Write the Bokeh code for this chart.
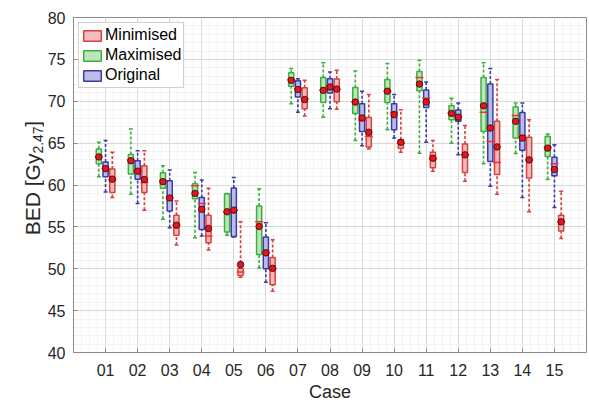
import numpy as np
from math import pi
from bokeh.plotting import figure
from bokeh.layouts import row
from bokeh.models import (FixedTicker, SingleIntervalTicker, Range1d,
                          Legend, LegendItem)
from bokeh.core.properties import value
from bokeh.embed import file_html
from bokeh.resources import INLINE

cases = ["01", "02", "03", "04", "05", "06", "07", "08", "09", "10",
         "11", "12", "13", "14", "15"]

# Maximised (green)
max_whi  = [65.1, 66.7, 62.3, 61.5, 59.0, 59.55, 73.9, 74.6, 73.6, 74.5, 74.9, 70.35, 74.6, 69.8, 66.1]
max_q3   = [64.3, 63.65, 61.45, 60.15, 58.95, 57.5, 73.4, 72.85, 71.65, 72.6, 73.55, 69.45, 72.85, 69.3, 65.8]
max_med  = [63.4, 63.0, 60.5, 59.9, 56.8, 55.6, 72.6, 71.3, 69.9, 71.2, 72.85, 68.6, 68.7, 68.3, 64.5]
max_q1   = [62.55, 61.3, 59.6, 58.35, 54.4, 51.7, 71.8, 69.85, 68.55, 69.85, 71.25, 67.8, 66.4, 65.6, 63.4]
max_wlo  = [61.0, 58.9, 55.9, 53.7, 54.0, 50.1, 69.7, 68.1, 65.3, 66.6, 63.8, 65.0, 62.55, 63.75, 60.65]
max_mean = [63.35, 62.9, 60.4, 59.0, 56.8, 55.05, 72.5, 71.3, 69.9, 71.2, 72.05, 68.55, 69.45, 67.6, 64.4]

# Original (blue)
org_whi  = [65.3, 64.1, 61.8, 60.6, 60.9, 55.5, 72.7, 73.5, 71.2, 70.8, 72.3, 69.8, 73.9, 69.8, 64.8]
org_q3   = [62.75, 62.9, 60.5, 58.5, 59.65, 53.8, 72.45, 72.7, 69.7, 69.7, 71.35, 68.95, 72.05, 68.65, 63.3]
org_med  = [62.0, 61.7, 58.5, 57.8, 57.0, 51.9, 71.5, 71.8, 67.7, 68.7, 70.35, 68.2, 65.2, 65.9, 62.55]
org_q1   = [61.0, 60.7, 56.9, 54.7, 53.85, 50.0, 70.5, 71.0, 66.4, 66.6, 69.25, 67.6, 62.8, 64.15, 61.1]
org_wlo  = [59.15, 57.8, 54.9, 53.9, 53.8, 48.4, 68.7, 69.1, 64.7, 65.6, 65.1, 63.6, 59.85, 58.5, 57.3]
org_mean = [61.95, 61.65, 58.45, 57.1, 57.0, 51.9, 71.4, 71.7, 68.0, 68.4, 69.9, 68.1, 66.8, 65.6, 61.85]

# Minimised (red)
min_whi  = [63.9, 64.1, 58.1, 59.6, 55.6, 53.45, 72.5, 73.7, 70.8, 69.0, 65.3, 67.1, 72.6, 67.8, 59.25]
min_q3   = [61.9, 62.3, 56.4, 56.4, 50.05, 51.35, 71.6, 72.65, 68.05, 65.4, 63.9, 64.9, 67.6, 65.7, 56.4]
min_med  = [60.6, 60.3, 55.2, 53.9, 49.6, 50.0, 70.3, 71.4, 65.8, 65.0, 63.1, 63.6, 62.7, 63.0, 55.6]
min_q1   = [59.1, 59.1, 54.0, 53.1, 49.2, 48.1, 69.1, 69.95, 64.55, 64.4, 62.05, 61.5, 61.25, 60.85, 54.5]
min_wlo  = [58.5, 57.0, 52.85, 52.25, 49.0, 47.3, 68.25, 69.05, 64.3, 63.9, 61.65, 60.45, 58.9, 56.8, 53.6]
min_mean = [60.7, 60.65, 55.2, 54.8, 50.5, 50.05, 70.2, 71.45, 66.3, 65.1, 63.2, 63.6, 64.55, 63.0, 55.6]

FONT = "Liberation Sans"
H = 404
W_LAB = 44
W_MAIN = 589 - W_LAB
TOP, BOTTOM = 17, 50

p = figure(width=W_MAIN, height=H, output_backend="svg", toolbar_location=None,
           x_range=Range1d(0, 16), y_range=Range1d(40, 80),
           min_border_left=67 - W_LAB, min_border_right=3, min_border_top=TOP,
           min_border_bottom=BOTTOM)

xt = FixedTicker(ticks=list(range(1, 16)),
                 minor_ticks=list(np.arange(0, 16.001, 0.25)))
yt = SingleIntervalTicker(interval=5, num_minor_ticks=5)

p.xaxis.ticker = xt
p.yaxis.ticker = yt
p.xaxis.major_label_overrides = {i + 1: c for i, c in enumerate(cases)}

for ax in (p.xaxis, p.yaxis):
    ax.major_tick_in = 4
    ax.major_tick_out = 0
    ax.minor_tick_line_color = None
    ax.axis_line_color = "#8a8a8a"
    ax.major_tick_line_color = "#8a8a8a"
    ax.major_label_text_font = FONT
    ax.major_label_text_font_size = "16px"
    ax.major_label_text_color = "#262626"

p.xaxis.major_label_standoff = 7
p.yaxis.major_label_standoff = 4
p.xaxis.axis_label = "Case"
p.xaxis.axis_label_text_font = FONT
p.xaxis.axis_label_text_font_size = "18px"
p.xaxis.axis_label_text_font_style = "normal"
p.xaxis.axis_label_text_color = "#262626"
p.xaxis.axis_label_standoff = 3

p.xgrid.ticker = xt
p.ygrid.ticker = yt
for g in (p.xgrid, p.ygrid):
    g.grid_line_color = "#d9d9d9"
    g.grid_line_width = 1
    g.minor_grid_line_color = "#e6e6e6"
    g.minor_grid_line_dash = "1 1"

p.outline_line_color = "#8a8a8a"
p.outline_line_width = 1
p.background_fill_color = "white"

idx = np.arange(1, 16)
groups = [
    ("Minimised", 0.21, "#d94040", "#f2b0b0",
     min_whi, min_q3, min_med, min_q1, min_wlo, min_mean),
    ("Maximised", -0.21, "#3fae3f", "#b4e0b0",
     max_whi, max_q3, max_med, max_q1, max_wlo, max_mean),
    ("Original", 0.0, "#3c3ca8", "#b2b2e4",
     org_whi, org_q3, org_med, org_q1, org_wlo, org_mean),
]

items = []
bw = 0.16
for name, off, edge, fill, whi, q3, med, q1, wlo, mean in groups:
    x = idx + off
    p.segment(x, q3, x, whi, line_color=edge, line_width=1.6, line_dash="3 2")
    p.segment(x, wlo, x, q1, line_color=edge, line_width=1.6, line_dash="3 2")
    p.scatter(x, whi, marker="dash", size=4, line_color=edge, line_width=1.5)
    p.scatter(x, wlo, marker="dash", size=4, line_color=edge, line_width=1.5)
    r = p.vbar(x=x, width=bw, top=q3, bottom=q1, fill_color=fill, fill_alpha=0.85,
               line_color=edge, line_width=1.5)
    p.scatter(x, med, marker="dash", size=8, line_color="#ff2a2a", line_width=1.5)
    items.append(LegendItem(label=name, renderers=[r]))

for name, off, edge, fill, whi, q3, med, q1, wlo, mean in groups:
    x = idx + off
    p.scatter(x, mean, marker="circle", size=6.5, fill_color="#e8141a",
              line_color="#3a1010", line_width=0.9)

legend = Legend(items=items, location="top_left")
legend.label_text_font = FONT
legend.label_text_font_size = "16px"
legend.label_text_color = "#000000"
legend.glyph_width = 22
legend.glyph_height = 13
legend.label_height = 20
legend.label_standoff = 2
legend.spacing = 0
legend.padding = 2
legend.margin = 5
legend.border_line_color = "#a0a0a0"
legend.border_line_width = 1
legend.background_fill_alpha = 1
p.add_layout(legend)

# Separate narrow panel holding the y-axis title with its subscript (real text)
ylab_main = ["BED [Gy"]
ylab_sub = ["2.47"]
ylab_close = ["]"]

q = figure(width=W_LAB, height=H, output_backend="svg", toolbar_location=None,
           x_range=Range1d(0, W_LAB), y_range=Range1d(40, 80),
           x_axis_location=None, y_axis_location=None,
           min_border_left=0, min_border_right=0, min_border_top=TOP,
           min_border_bottom=BOTTOM)
q.outline_line_color = None
q.grid.visible = False
q.text(x=[32], y=[54.0], text=ylab_main, angle=pi / 2, text_font=value(FONT),
       text_font_size="21px", text_baseline="alphabetic", text_align="left",
       text_color="#262626")
q.text(x=[37], y=[63.75], text=ylab_sub, angle=pi / 2, text_font=value(FONT),
       text_font_size="14px", text_baseline="alphabetic", text_align="left",
       text_color="#262626")
q.text(x=[32], y=[66.95], text=ylab_close, angle=pi / 2, text_font=value(FONT),
       text_font_size="21px", text_baseline="alphabetic", text_align="left",
       text_color="#262626")

layout = row(q, p, spacing=0)
open("out.html", "w").write(file_html(layout, INLINE))
